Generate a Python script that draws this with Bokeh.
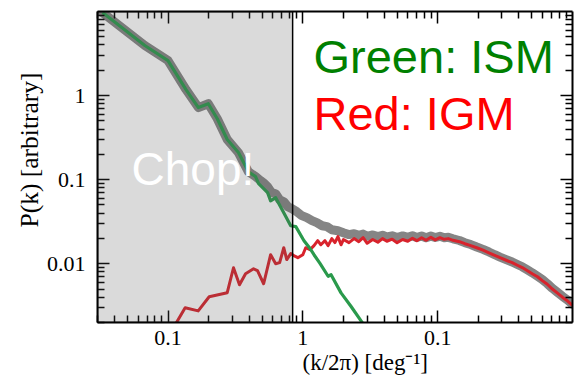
from math import log10

from bokeh.embed import file_html
from bokeh.models import BoxAnnotation, CustomJSTickFormatter, FixedTicker, Label, LogAxis, Title
from bokeh.plotting import figure
from bokeh.resources import INLINE

# --- power spectra -----------------------------------------------------------
# total map (thick gray)
total_k = [0.0327, 0.0673, 0.100, 0.136, 0.168, 0.199, 0.232, 0.275, 0.333, 0.395,
           0.446, 0.486, 0.520, 0.548, 0.587, 0.629, 0.673, 0.722, 0.773, 0.828,
           0.902, 0.983, 1.07, 1.17, 1.27, 1.39, 1.51, 1.64, 1.82, 2.02,
           2.2, 2.4, 2.6, 2.8, 3.0, 3.3, 3.6, 3.9, 4.2, 4.6,
           5.0, 5.5, 6.0, 6.5, 7.0, 7.6, 8.2, 8.9, 9.6, 10.4,
           11.2, 12.0, 13.0, 14.5, 15.9, 17.6, 19.5, 21.7, 24.0, 26.5,
           29.0, 32.2, 35.7, 39.0, 42.4, 46.0, 50.3, 55.0, 59.7, 65.0,
           70.9, 77.0, 84.2, 92.0, 100.0]
total_p = [9.7, 3.94, 2.61, 1.18, 0.72, 0.80, 0.53, 0.30, 0.21, 0.124,
           0.109, 0.0973, 0.0896, 0.0826, 0.0700, 0.0680, 0.0578, 0.0547, 0.0477, 0.0452,
           0.0416, 0.0373, 0.0353, 0.0325, 0.0308, 0.0283, 0.0276, 0.0254, 0.0247, 0.0232,
           0.0222, 0.0228, 0.0218, 0.0225, 0.0212, 0.0220, 0.0210, 0.0218, 0.0208, 0.0215,
           0.0205, 0.0214, 0.0206, 0.0215, 0.0205, 0.0214, 0.0204, 0.0213, 0.0205, 0.0212,
           0.0204, 0.0206, 0.0198, 0.0189, 0.0178, 0.0169, 0.0158, 0.0148, 0.0138, 0.0128,
           0.0120, 0.0112, 0.0105, 0.0098, 0.0092, 0.0085, 0.0078, 0.0071, 0.0065, 0.0058,
           0.0051, 0.0046, 0.0041, 0.0037, 0.0033]

# Galactic foreground (ISM, green)
ism_k = [0.0327, 0.0673, 0.100, 0.136, 0.168, 0.199, 0.232, 0.275, 0.333, 0.395,
         0.446, 0.470, 0.548, 0.577, 0.629, 0.722, 0.813, 0.887, 1.02, 1.12,
         1.21, 1.34, 1.54, 1.62, 1.92, 2.28, 2.80, 3.00]
ism_p = [9.7, 3.94, 2.61, 1.18, 0.72, 0.80, 0.53, 0.30, 0.21, 0.124,
         0.109, 0.0896, 0.070, 0.056, 0.061, 0.0405, 0.0283, 0.0276, 0.0188, 0.0155,
         0.0128, 0.0101, 0.0071, 0.0074, 0.0045, 0.0031, 0.00193, 0.00164]

# extragalactic signal (IGM, red)
igm_k = [0.109, 0.134, 0.1675, 0.202, 0.275, 0.306, 0.339, 0.376, 0.431, 0.461,
         0.512, 0.577, 0.629, 0.673, 0.722, 0.760, 0.813, 0.857, 0.918, 1.00,
         1.05, 1.13, 1.21, 1.29, 1.36, 1.46, 1.54, 1.64, 1.73, 1.82,
         1.92, 2.0, 2.2, 2.4, 2.6, 2.8, 3.0, 3.3, 3.6, 3.9,
         4.2, 4.6, 5.0, 5.5, 6.0, 6.5, 7.0, 7.6, 8.2, 8.9,
         9.6, 10.4, 11.2, 12.0, 13.0, 14.5, 15.9, 17.6, 19.5, 21.7,
         24.0, 26.5, 29.0, 32.2, 35.7, 39.0, 42.4, 46.0, 50.3, 55.0,
         59.7, 65.0, 70.9, 77.0, 84.2, 92.0, 100.0]
igm_p = [0.0017, 0.0030, 0.00275, 0.00405, 0.00452, 0.00896, 0.00562, 0.0076, 0.0087, 0.0083,
         0.00578, 0.0128, 0.0100, 0.0103, 0.0155, 0.0112, 0.0132, 0.0125, 0.0118, 0.0128,
         0.0155, 0.0147, 0.0164, 0.0188, 0.0168, 0.0188, 0.0164, 0.0199, 0.0178, 0.0210,
         0.0168, 0.0194, 0.0178, 0.0199, 0.0183, 0.0204, 0.0175, 0.0194, 0.0180, 0.0199,
         0.0185, 0.0196, 0.0178, 0.0194, 0.0185, 0.0201, 0.0188, 0.0204, 0.0190, 0.0206,
         0.0192, 0.0204, 0.0195, 0.0199, 0.0190, 0.0183, 0.0173, 0.0164, 0.0155, 0.0145,
         0.0135, 0.0126, 0.0118, 0.0110, 0.0103, 0.0096, 0.0090, 0.0083, 0.0076, 0.0070,
         0.0063, 0.0057, 0.0050, 0.0045, 0.0040, 0.0036, 0.0032]

# --- axes --------------------------------------------------------------------
x_ticks = [0.1, 1, 10]
x_tick_labels = ["0.1", "1", "0.1"]
y_ticks = [0.01, 0.1, 1]
y_tick_labels = ["0.01", "0.1", "1"]
x_minor = [m * d for d in (0.01, 0.1, 1, 10) for m in range(2, 10)]
y_minor = [m * d for d in (0.001, 0.01, 0.1, 1) for m in range(2, 10)]

chop_k = 0.84          # low-k region removed from the fit

X0, X1 = 0.03, 100
Y0, Y1 = 0.002, 10
W, H = 579, 381
FL, FR, FT, FB = 97, 572, 11, 322   # frame edges on the canvas


def at(px, py):
    """Canvas pixel position -> data coordinates (log axes)."""
    lx = log10(X0) + (px - FL) / (FR - FL) * (log10(X1) - log10(X0))
    ly = log10(Y0) + (FB - py) / (FB - FT) * (log10(Y1) - log10(Y0))
    return 10 ** lx, 10 ** ly


def tick_formatter(vals, labs):
    return CustomJSTickFormatter(args=dict(tvals=vals, tlabs=labs), code="""
        for (let i = 0; i < tvals.length; i++) {
            if (Math.abs(Math.log10(tick / tvals[i])) < 1e-6) return tlabs[i];
        }
        return "";
    """)


p = figure(width=W, height=H, x_axis_type="log", y_axis_type="log",
           x_range=(X0, X1), y_range=(Y0, Y1), title=None,
           output_backend="svg", toolbar_location=None,
           min_border_left=FL, min_border_right=W - FR,
           min_border_top=FT, min_border_bottom=H - FB)
p.grid.visible = False
p.outline_line_color = None
p.background_fill_color = "white"
p.border_fill_color = "white"

p.add_layout(LogAxis(), "above")
p.add_layout(LogAxis(), "right")

for ax in p.xaxis:
    ax.ticker = FixedTicker(ticks=x_ticks, minor_ticks=x_minor)
for ax in p.yaxis:
    ax.ticker = FixedTicker(ticks=y_ticks, minor_ticks=y_minor)

for ax in p.axis:
    ax.axis_line_color = "black"
    ax.axis_line_width = 2
    ax.major_tick_line_color = "black"
    ax.minor_tick_line_color = "black"
    ax.major_tick_line_width = 1.5
    ax.minor_tick_line_width = 1.5
    ax.major_tick_in = 12
    ax.major_tick_out = 0
    ax.minor_tick_in = 7
    ax.minor_tick_out = 0
    ax.major_label_text_font = "Liberation Serif"
    ax.major_label_text_font_size = "22px"
    ax.major_label_text_color = "black"

p.below[0].formatter = tick_formatter(x_ticks, x_tick_labels)
p.below[0].major_label_standoff = 8
p.left[0].formatter = tick_formatter(y_ticks, y_tick_labels)
p.left[0].major_label_standoff = 12

for ax in (p.above[0], p.right[0]):
    ax.formatter = CustomJSTickFormatter(code='return "";')
    ax.major_label_text_color = None
    ax.major_label_text_font_size = "1px"
    ax.major_label_standoff = 0

# axis titles, placed outside the tick labels
p.add_layout(Title(text="(k/2π) [deg⁻¹]", align="left", offset=302 - FL, standoff=1,
                   text_font="Liberation Serif", text_font_size="23px",
                   text_font_style="normal", text_color="black"), "below")
p.add_layout(Title(text="P(k) [arbitrary]", align="left", offset=FB - 227, standoff=0,
                   text_font="Liberation Serif", text_font_size="25.5px",
                   text_font_style="normal", text_color="black"), "left")

# --- curves ------------------------------------------------------------------
p.line(total_k, total_p, line_color="#858585", line_width=9,
       line_join="round", line_cap="round")
p.line(igm_k, igm_p, line_color="#d8232c", line_width=3, line_join="round")
p.line(ism_k, ism_p, line_color="#2a9a4c", line_width=3.2, line_join="round")

# shaded, discarded low-k band
p.add_layout(BoxAnnotation(left=X0, right=chop_k, bottom=Y0, top=Y1,
                           fill_color="#555555", fill_alpha=0.22,
                           line_color="black", line_alpha=1.0, line_width=1.5))


# --- in-plot texts -------------------------------------------------------------
def add_text(text, px, py, size, color):
    x, y = at(px, py)
    p.add_layout(Label(x=x, y=y, text=text, text_color=color,
                       text_font="Liberation Sans", text_font_size=size,
                       text_align="left", text_baseline="alphabetic"))


add_text("Chop!", 131, 168, "46px", "white")
add_text("Green: ISM", 313, 56, "47px", "#008000")
add_text("Red: IGM", 313, 113, "47px", "#ff0000")

open("out.html", "w").write(file_html(p, INLINE))
